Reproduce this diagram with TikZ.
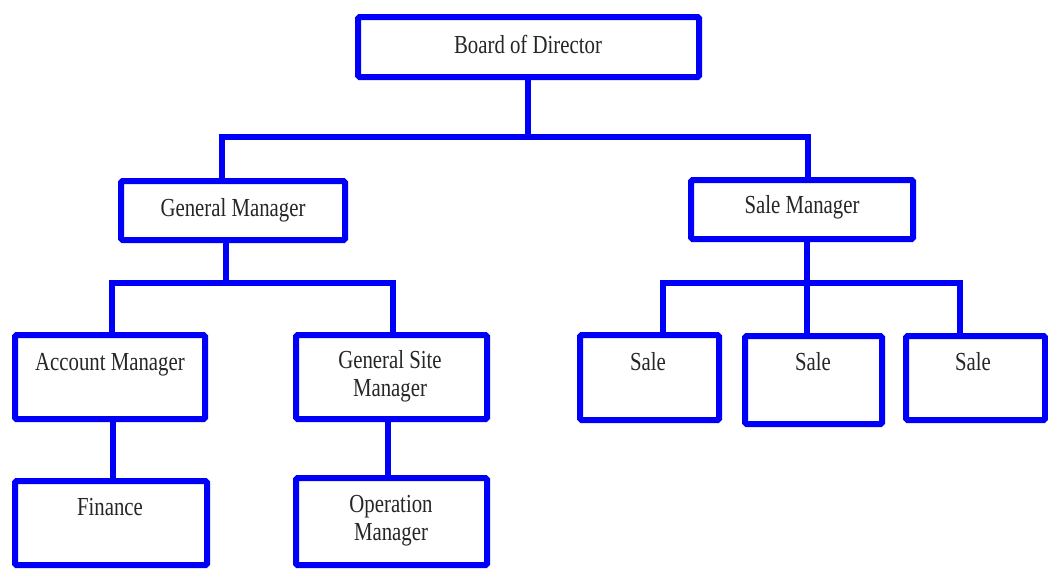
\documentclass[tikz,border=0pt]{standalone}
\usepackage{fontspec}
\setmainfont{Liberation Serif}[FakeStretch=0.8]
\usetikzlibrary{fit}
\definecolor{orgblue}{RGB}{0,0,250}
\tikzset{
  box/.style={draw=orgblue, line width=6pt, rounded corners=1.5pt, inner sep=0pt, rectangle},
  conn/.style={draw=orgblue, line width=6pt, line join=miter},
  txt/.style={font=\fontsize{26}{28.5}\selectfont, text=black!85, inner sep=0pt, anchor=base},
  txt2/.style={font=\fontsize{26}{28.5}\selectfont, text=black!85, inner sep=0pt, align=center, anchor=center}
}
\begin{document}
\begin{tikzpicture}[x=1pt,y=-1pt]
\useasboundingbox[fill=white] (0,0) rectangle (1048,574);
% boxes
\node[box, fit={(358,17) (699,77)}] (bod) {};
\node[box, fit={(121,181) (345,240)}] (gm) {};
\node[box, fit={(691,180) (913,239)}] (sm) {};
\node[box, fit={(15,335) (205,419)}] (am) {};
\node[box, fit={(296,335) (487,419)}] (gsm) {};
\node[box, fit={(15,481) (207,565)}] (fin) {};
\node[box, fit={(296,478) (487,565)}] (om) {};
\node[box, fit={(580,335) (719,420)}] (s1) {};
\node[box, fit={(745,336) (882,424)}] (s2) {};
\node[box, fit={(906,336) (1045,420)}] (s3) {};
% texts
\node[txt] (bodt) at (528,53) {Board of Director};
\node[txt] (gmt) at (233,216) {General Manager};
\node[txt] (smt) at (802,213) {Sale Manager};
\node[txt] (amt) at (110,370) {Account Manager};
\node[txt] (fint) at (110,515) {Finance};
\node[txt2] (gsmt) at (390,376.4) {General Site\\Manager};
\node[txt2] (omt) at (391,520.9) {Operation\\Manager};
\node[txt] (s1t) at (648,370) {Sale};
\node[txt] (s2t) at (813,370.5) {Sale};
\node[txt] (s3t) at (973,370) {Sale};
% connector coordinates
\coordinate (aStem) at (528,137);
\coordinate (aL) at (222,137);
\coordinate (aR) at (808,137);
\coordinate (bStem) at (226,283);
\coordinate (bL) at (112,283);
\coordinate (bR) at (393,283);
\coordinate (cStem) at (807,283);
\coordinate (cL) at (663,283);
\coordinate (cR) at (960,283);
\coordinate (dL) at (113,0);
\coordinate (dR) at (388,0);
% connectors
\draw[conn] (bod.south -| aStem) -- (aStem);
\draw[conn] (gm.north -| aL) -- (aL) -- (aR) -- (sm.north -| aR);
\draw[conn] (gm.south -| bStem) -- (bStem);
\draw[conn] (am.north -| bL) -- (bL) -- (bR) -- (gsm.north -| bR);
\draw[conn] (sm.south -| cStem) -- (cStem);
\draw[conn] (s1.north -| cL) -- (cL) -- (cR) -- (s3.north -| cR);
\draw[conn] (cStem) -- (s2.north -| cStem);
\draw[conn] (am.south -| dL) -- (fin.north -| dL);
\draw[conn] (gsm.south -| dR) -- (om.north -| dR);
\end{tikzpicture}
\end{document}
